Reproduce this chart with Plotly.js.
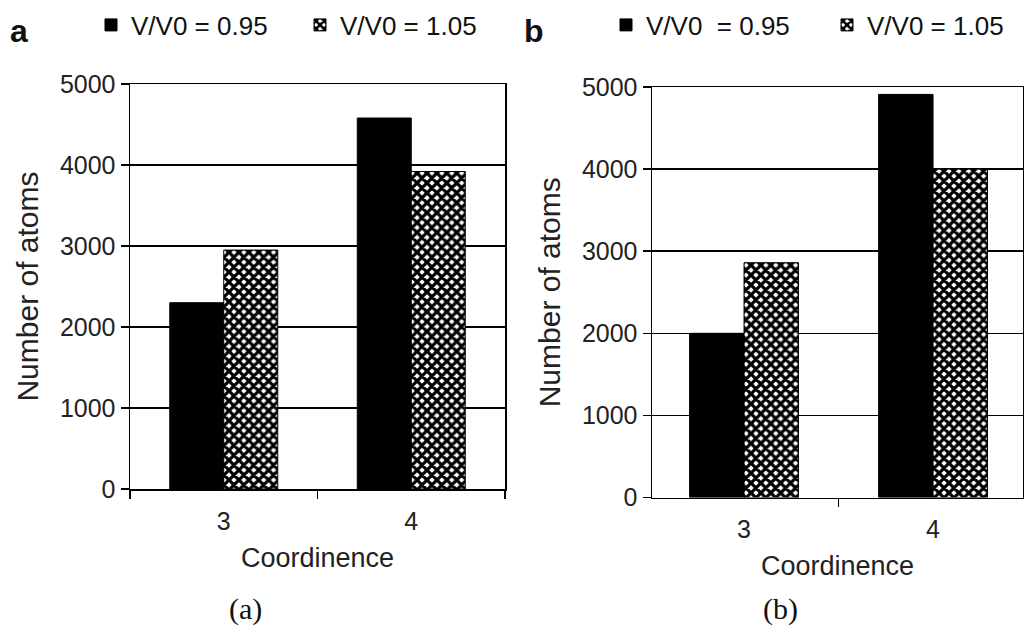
<!DOCTYPE html>
<html><head><meta charset="utf-8">
<script src="https://cdn.plot.ly/plotly-3.0.1.min.js"></script>
<style>html,body{margin:0;padding:0;background:#fff;overflow:hidden}#chart{width:1024px;height:631px}</style>
</head><body><div id="chart"></div>
<script>
// ---- data ----
const categories = ['3', '4'];
const seriesNamesA = ['V/V0 = 0.95', 'V/V0 = 1.05'];
const seriesNamesB = ['V/V0\u00a0 = 0.95', 'V/V0 = 1.05'];
const panelA_v095 = [2300, 4580];
const panelA_v105 = [2950, 3920];
const panelB_v095 = [2000, 4910];
const panelB_v105 = [2860, 4000];
const yTickVals = [0, 1000, 2000, 3000, 4000, 5000];
const xTitle = 'Coordinence';
const yTitle = 'Number of atoms';
const panelLetters = ['a', 'b'];
const captions = ['(a)', '(b)'];

// ---- layout helpers (pixel -> paper) ----
const W = 1024, H = 631;
const px = v => v / W;
const py = v => 1 - v / H;
const FONT = 'Liberation Sans, Arial, sans-serif';

const solid = {color: '#000', line: {color: '#000', width: 1}};
const hatch = {color: '#fff', line: {color: '#000', width: 1},
  pattern: {shape: 'x', fgcolor: '#000', bgcolor: '#fff', size: 7, solidity: 0.7}};

const traces = [
  {type: 'bar', x: categories, y: panelA_v095, name: seriesNamesA[0], marker: solid, xaxis: 'x', yaxis: 'y', legend: 'legend'},
  {type: 'bar', x: categories, y: panelA_v105, name: seriesNamesA[1], marker: hatch, xaxis: 'x', yaxis: 'y', legend: 'legend2'},
  {type: 'bar', x: categories, y: panelB_v095, name: seriesNamesB[0], marker: solid, xaxis: 'x2', yaxis: 'y2', legend: 'legend3'},
  {type: 'bar', x: categories, y: panelB_v105, name: seriesNamesB[1], marker: hatch, xaxis: 'x2', yaxis: 'y2', legend: 'legend4'}
];

function xax(domain, range, anchor) {
  return {domain, range, anchor, type: 'category', showline: true, mirror: true, linecolor: '#000', linewidth: 1.5,
    ticks: 'outside', tickson: 'boundaries', ticklen: 8, tickwidth: 1.5, tickcolor: '#000', showgrid: false,
    ticklabelstandoff: 9,
    tickfont: {family: FONT, size: 25, color: '#222'},
    title: {text: xTitle, font: {family: FONT, size: 27, color: '#222'}, standoff: 14}, fixedrange: true};
}
function yax(domain, anchor) {
  return {domain, anchor, range: [0, 5000], tickvals: yTickVals, showline: true, mirror: true, linecolor: '#000', linewidth: 1.5,
    ticks: 'outside', ticklen: 8, tickwidth: 1.5, tickcolor: '#000', showgrid: true, gridcolor: '#000', gridwidth: 1.5,
    zeroline: false, tickfont: {family: FONT, size: 25, color: '#222'},
    title: {text: yTitle, font: {family: FONT, size: 30, color: '#222'}, standoff: 12}, fixedrange: true};
}
function leg(xp, yp) {
  return {x: px(xp), y: py(yp), xanchor: 'left', yanchor: 'middle', orientation: 'h', bgcolor: 'rgba(0,0,0,0)',
    font: {family: FONT, size: 26, color: '#111'}};
}

const layout = {
  width: W, height: H, margin: {l: 0, r: 0, t: 0, b: 0}, paper_bgcolor: '#fff', plot_bgcolor: '#fff',
  barmode: 'group', bargap: 0.424, bargroupgap: 0, showlegend: true,
  xaxis: xax([px(130), px(505)], [-0.5, 1.5], 'y'),
  yaxis: yax([py(489), py(84)], 'x'),
  xaxis2: xax([px(652), px(1023)], [-0.487, 1.476], 'y2'),
  yaxis2: yax([py(497.5), py(87)], 'x2'),
  legend: leg(91, 25), legend2: leg(300, 25), legend3: leg(606, 25), legend4: leg(827, 25),
  annotations: [
    {text: '<b>' + panelLetters[0] + '</b>', xref: 'paper', yref: 'paper', x: px(8), y: py(31), xanchor: 'left', yanchor: 'middle', showarrow: false, font: {family: FONT, size: 32, color: '#111'}},
    {text: '<b>' + panelLetters[1] + '</b>', xref: 'paper', yref: 'paper', x: px(522), y: py(31), xanchor: 'left', yanchor: 'middle', showarrow: false, font: {family: FONT, size: 32, color: '#111'}},
    {text: captions[0], xref: 'paper', yref: 'paper', x: px(245), y: py(609), xanchor: 'center', yanchor: 'middle', showarrow: false, font: {family: 'Liberation Serif, serif', size: 30, color: '#111'}},
    {text: captions[1], xref: 'paper', yref: 'paper', x: px(780), y: py(609), xanchor: 'center', yanchor: 'middle', showarrow: false, font: {family: 'Liberation Serif, serif', size: 30, color: '#111'}}
  ]
};

Plotly.newPlot('chart', traces, layout, {displayModeBar: false, staticPlot: true});
</script></body></html>
